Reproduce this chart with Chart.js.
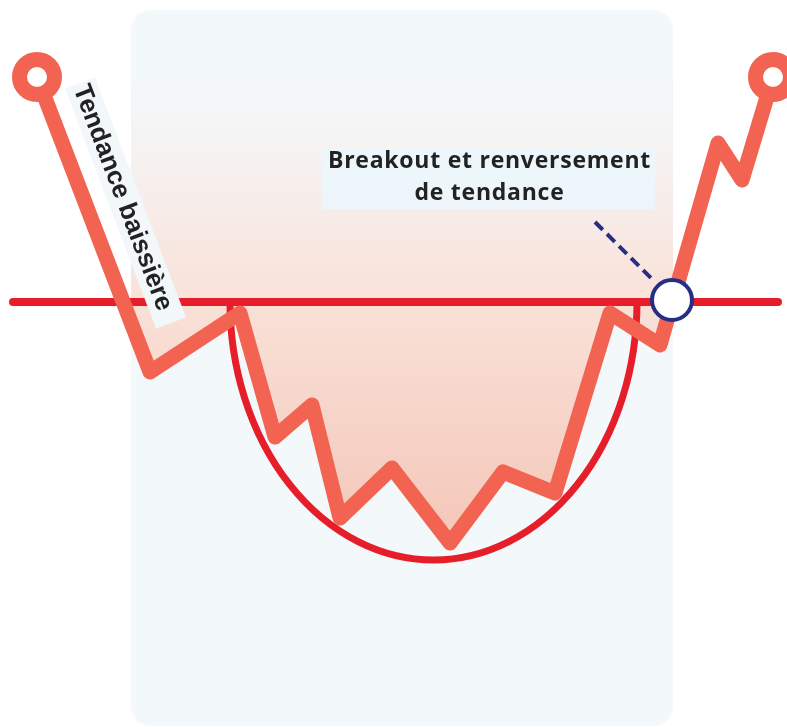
<!DOCTYPE html>
<html>
<head>
<meta charset="utf-8">
<script src="https://cdn.jsdelivr.net/npm/chart.js@4/dist/chart.umd.min.js"></script>
<style>
html,body{margin:0;padding:0;background:#ffffff;}
#wrap{width:787px;height:727px;}
</style>
</head>
<body>
<div id="wrap"><canvas id="c" width="787" height="727"></canvas></div>
<script>
// ---- Data (x = time units, y = price units) ----
const timeX   = [37, 150, 240, 275, 312, 340, 392, 450, 503, 555, 610, 660, 718, 742, 773];
const priceY  = [650, 355, 414, 290, 322, 209, 259, 184, 255, 234, 414, 382, 584, 547, 650];
const necklineX = [13, 778];
const necklineLevel = 425;
const cupX = [230, 637];          // left / right rim of the rounding bottom
const cupBottomLevel = 167;       // lowest point of the cup
const breakoutPoint = [672, 427];
const pointerX = [595, 655];
const pointerY = [505, 445];
const panelX = [131, 673];
const panelY = [717, 1];
const breakoutLabel = ['Breakout et renversement', 'de tendance'];
const breakoutLabelX = [322, 655];
const breakoutLabelY = [580, 517];
const trendLabel = 'Tendance baissière';
const trendLabelStart = [80, 644];
const trendLabelEnd = [171, 404];

const CORAL = '#f26451';
const RED = '#e61e2a';
const NAVY = '#272e85';

function px(chart, vx, vy){
  return [chart.scales.x.getPixelForValue(vx), chart.scales.y.getPixelForValue(vy)];
}

let fillPattern = null;
function makeFill(chart){
  if (fillPattern) return fillPattern;
  if (!chart.chartArea) return 'rgba(0,0,0,0)';
  const c = document.createElement('canvas');
  c.width = chart.width; c.height = chart.height;
  const g = c.getContext('2d');
  const [x0, y0] = px(chart, panelX[0], panelY[0]);
  const [x1, y1] = px(chart, panelX[1], panelY[1]);
  const grad = g.createLinearGradient(0, 80, 0, 555);
  grad.addColorStop(0, 'rgba(251,232,225,0)');
  grad.addColorStop(0.45, 'rgba(249,226,217,1)');
  grad.addColorStop(1, 'rgba(244,197,183,1)');
  g.fillStyle = grad;
  g.beginPath();
  g.roundRect(x0, y0, x1 - x0, y1 - y0, 20);
  g.fill();
  fillPattern = chart.ctx.createPattern(c, 'no-repeat');
  return fillPattern;
}

function fitText(ctx, text, target){
  ctx.letterSpacing = '0px';
  const w = ctx.measureText(text).width;
  const ls = (target - w) / text.length;
  ctx.letterSpacing = ls.toFixed(2) + 'px';
}

const decor = {
  id: 'decor',
  beforeDraw(chart){
    const ctx = chart.ctx;
    const [x0, y0] = px(chart, panelX[0], panelY[0]);
    const [x1, y1] = px(chart, panelX[1], panelY[1]);
    ctx.save();
    ctx.fillStyle = '#f3f8fb';
    ctx.beginPath();
    ctx.roundRect(x0, y0, x1 - x0, y1 - y0, 20);
    ctx.fill();
    ctx.restore();
  },
  beforeDatasetsDraw(chart){
    // rounding-bottom (cup) curve
    const ctx = chart.ctx;
    const [lx, ny] = px(chart, cupX[0], necklineLevel);
    const [rx] = px(chart, cupX[1], necklineLevel);
    const [, by] = px(chart, cupX[0], cupBottomLevel);
    ctx.save();
    ctx.strokeStyle = RED;
    ctx.lineWidth = 7;
    ctx.beginPath();
    ctx.ellipse((lx + rx) / 2, ny, (rx - lx) / 2, by - ny, 0, 0, Math.PI);
    ctx.stroke();
    ctx.restore();
  },
  afterDraw(chart){
    const ctx = chart.ctx;
    ctx.save();
    // Breakout label
    const [bx0, by0] = px(chart, breakoutLabelX[0], breakoutLabelY[0]);
    const [bx1, by1] = px(chart, breakoutLabelX[1], breakoutLabelY[1]);
    ctx.fillStyle = 'rgba(236,246,251,0.95)';
    ctx.fillRect(bx0, by0, bx1 - bx0, by1 - by0);
    ctx.fillStyle = '#222222';
    ctx.font = 'bold 23px "Open Sans", sans-serif';
    ctx.textAlign = 'center';
    ctx.textBaseline = 'alphabetic';
    const cx = (bx0 + bx1) / 2;
    fitText(ctx, breakoutLabel[0], 323);
    ctx.fillText(breakoutLabel[0], cx + 1, by0 + 21);
    ctx.fillText(breakoutLabel[1], cx + 1, by0 + 53);
    ctx.letterSpacing = '0px';
    // Trend label (rotated)
    const [sx, sy] = px(chart, trendLabelStart[0], trendLabelStart[1]);
    const [ex, ey] = px(chart, trendLabelEnd[0], trendLabelEnd[1]);
    const ang = Math.atan2(ey - sy, ex - sx);
    const len = Math.hypot(ex - sx, ey - sy);
    ctx.translate((sx + ex) / 2, (sy + ey) / 2);
    ctx.rotate(ang);
    ctx.fillStyle = '#f2f7fa';
    ctx.fillRect(-len / 2, -16, len, 32);
    ctx.fillStyle = '#222222';
    ctx.font = 'bold 26px "Liberation Sans", Arial, sans-serif';
    ctx.textBaseline = 'middle';
    ctx.fillText(trendLabel, -6, 1);
    ctx.restore();
  }
};

const lastIdx = timeX.length - 1;

new Chart(document.getElementById('c'), {
  type: 'line',
  data: {
    datasets: [
      {
        label: 'Breakout',
        data: [{x: breakoutPoint[0], y: breakoutPoint[1]}],
        showLine: false,
        pointRadius: 20,
        pointBorderWidth: 4,
        pointBackgroundColor: '#ffffff',
        pointBorderColor: NAVY,
        order: 0
      },
      {
        label: 'Prix',
        data: timeX.map((x, i) => ({x, y: priceY[i]})),
        borderColor: CORAL,
        borderWidth: 15,
        borderJoinStyle: 'round',
        borderCapStyle: 'butt',
        tension: 0,
        fill: 'end',
        backgroundColor: (ctx) => makeFill(ctx.chart),
        pointRadius: (ctx) => (ctx.dataIndex === 0 || ctx.dataIndex === lastIdx) ? 17.5 : 0,
        pointBorderWidth: 15,
        pointBackgroundColor: '#ffffff',
        pointBorderColor: CORAL,
        order: 1
      },
      {
        label: 'Pointer',
        data: pointerX.map((x, i) => ({x, y: pointerY[i]})),
        borderColor: NAVY,
        borderWidth: 4,
        borderDash: [11, 6],
        pointRadius: 0,
        fill: false,
        order: 2
      },
      {
        label: 'Neckline',
        data: necklineX.map(x => ({x, y: necklineLevel})),
        borderColor: RED,
        borderWidth: 8,
        borderCapStyle: 'round',
        pointRadius: 0,
        fill: false,
        order: 3
      }
    ]
  },
  options: {
    responsive: false,
    animation: false,
    events: [],
    layout: {padding: 0, autoPadding: false},
    scales: {
      x: {type: 'linear', min: 0, max: 787, display: false},
      y: {type: 'linear', min: 0, max: 727, display: false}
    },
    plugins: {
      legend: {display: false},
      tooltip: {enabled: false},
      filler: {drawTime: 'beforeDatasetsDraw'}
    },
    datasets: {line: {clip: false}}
  },
  plugins: [decor]
});
</script>
</body>
</html>
